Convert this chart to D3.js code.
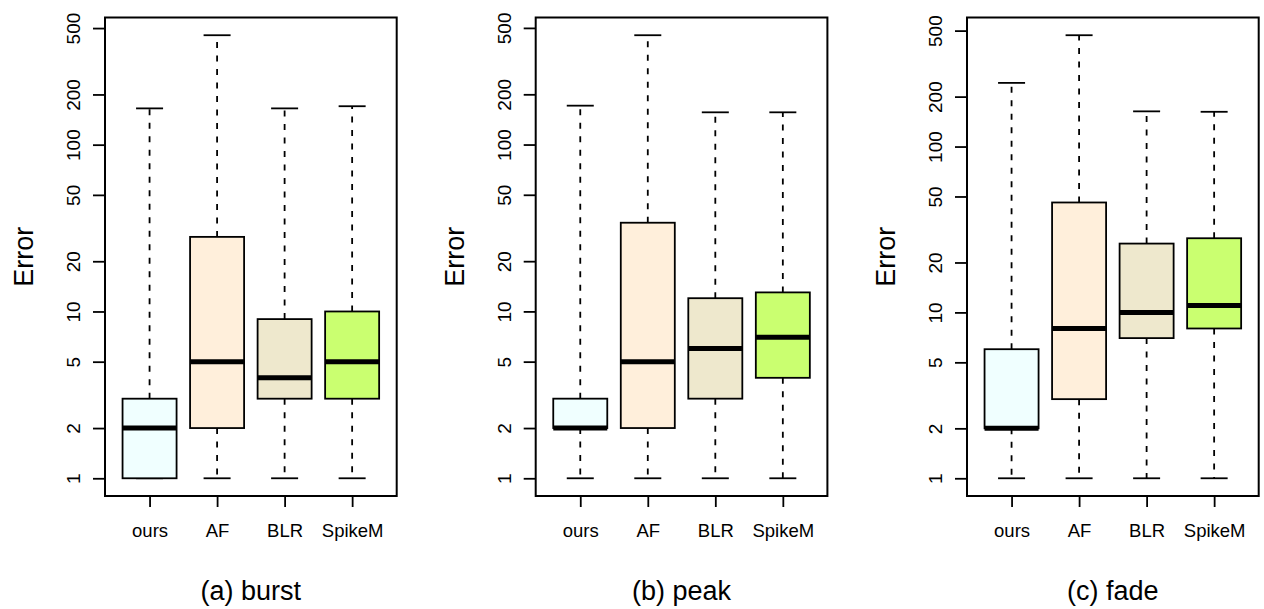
<!DOCTYPE html>
<html>
<head>
<meta charset="utf-8">
<script src="https://cdn.jsdelivr.net/npm/d3@7"></script>
<style>
  html, body { margin: 0; padding: 0; background: #fff; }
  svg { display: block; }
  text { font-family: "Liberation Sans", Arial, Helvetica, sans-serif; fill: #000; }
</style>
</head>
<body>
<svg id="chart" width="1264" height="609"></svg>
<script>
// ---- data ----
const categories = ["ours", "AF", "BLR", "SpikeM"];
const colors = ["#F0FFFF", "#FFEFDB", "#EEE8CD", "#CAFF70"];
const panelTitles = ["(a) burst", "(b) peak", "(c) fade"];
const yTickValues = [1, 2, 5, 10, 20, 50, 100, 200, 500];

// stats per category: [min, Q1, median, Q3, max]
const burstStats = [
  [1, 1, 2, 3, 165],
  [1, 2, 5, 28, 453],
  [1, 3, 4, 9, 165],
  [1, 3, 5, 10, 170]
];
const peakStats = [
  [1, 2, 2, 3, 171],
  [1, 2, 5, 34, 452],
  [1, 3, 6, 12, 156],
  [1, 4, 7, 13, 156]
];
const fadeStats = [
  [1, 2, 2, 6, 242],
  [1, 3, 8, 46, 469],
  [1, 7, 10, 26, 163],
  [1, 8, 11, 28, 162]
];
const panelsData = [burstStats, peakStats, fadeStats];

// ---- layout ----
const svg = d3.select("#chart");
const frameLefts = [105, 535.7, 967];
const frameW = 291.7;
const frameTop = 17.5, frameBottom = 496;
const lw = 1.8;

panelsData.forEach((stats, pi) => {
  const left = frameLefts[pi], right = left + frameW;
  const g = svg.append("g");

  // y scale: log, R-style 4% extension in log space
  const allVals = stats.flat();
  const lo = Math.log10(d3.min(allVals)), hi = Math.log10(d3.max(allVals));
  const ext = 0.04 * (hi - lo);
  const y = d3.scaleLog()
    .domain([Math.pow(10, lo - ext), Math.pow(10, hi + ext)])
    .range([frameBottom, frameTop]);

  const x = d3.scalePoint()
    .domain(categories)
    .range([left, right])
    .padding(0.66);
  const step = x.step();
  const boxW = 0.8 * step, capW = 0.4 * step;

  stats.forEach((s, i) => {
    const cx = x(categories[i]);
    const [mn, q1, med, q3, mx] = s;
    // whiskers
    g.append("line").attr("x1", cx).attr("x2", cx).attr("y1", y(q3)).attr("y2", y(mx))
      .attr("stroke", "#000").attr("stroke-width", lw).attr("stroke-dasharray", "6,7.5");
    if (q1 > mn) {
      g.append("line").attr("x1", cx).attr("x2", cx).attr("y1", y(q1)).attr("y2", y(mn))
        .attr("stroke", "#000").attr("stroke-width", lw).attr("stroke-dasharray", "6,7.5");
    }
    // caps
    [mn, mx].forEach(v => {
      g.append("line").attr("x1", cx - capW / 2).attr("x2", cx + capW / 2)
        .attr("y1", y(v)).attr("y2", y(v))
        .attr("stroke", "#000").attr("stroke-width", lw);
    });
    // box
    g.append("rect")
      .attr("x", cx - boxW / 2).attr("width", boxW)
      .attr("y", y(q3)).attr("height", y(q1) - y(q3))
      .attr("fill", colors[i]).attr("stroke", "#000").attr("stroke-width", lw);
    // median
    g.append("line").attr("x1", cx - boxW / 2).attr("x2", cx + boxW / 2)
      .attr("y1", y(med)).attr("y2", y(med))
      .attr("stroke", "#000").attr("stroke-width", 5);
  });

  // frame
  g.append("rect").attr("x", left).attr("y", frameTop)
    .attr("width", frameW).attr("height", frameBottom - frameTop)
    .attr("fill", "none").attr("stroke", "#000").attr("stroke-width", 2);

  // y axis
  const yAxis = d3.axisLeft(y).tickValues(yTickValues).tickFormat(d3.format("d"))
    .tickSize(12).tickSizeOuter(0);
  const ya = g.append("g").attr("transform", `translate(${left},0)`).call(yAxis);
  ya.select(".domain").remove();
  ya.selectAll(".tick line").attr("stroke", "#000").attr("stroke-width", lw);
  ya.selectAll(".tick text")
    .attr("x", null).attr("dy", null)
    .attr("transform", "translate(-25,0) rotate(-90)")
    .attr("text-anchor", "middle")
    .style("font-size", "19px");

  // x axis
  const xAxis = d3.axisBottom(x).tickSize(11).tickSizeOuter(0);
  const xa = g.append("g").attr("transform", `translate(0,${frameBottom})`).call(xAxis);
  xa.select(".domain").remove();
  xa.selectAll(".tick line").attr("stroke", "#000").attr("stroke-width", lw);
  xa.selectAll(".tick text").attr("y", 41).attr("dy", null).style("font-size", "18.5px");

  // y label
  g.append("text")
    .attr("transform", `translate(${left - 72},${(frameTop + frameBottom) / 2}) rotate(-90)`)
    .attr("text-anchor", "middle")
    .style("font-size", "27px")
    .text("Error");

  // title
  g.append("text")
    .attr("x", (left + right) / 2).attr("y", 600)
    .attr("text-anchor", "middle")
    .style("font-size", "27px")
    .text(panelTitles[pi]);
});
</script>
</body>
</html>
